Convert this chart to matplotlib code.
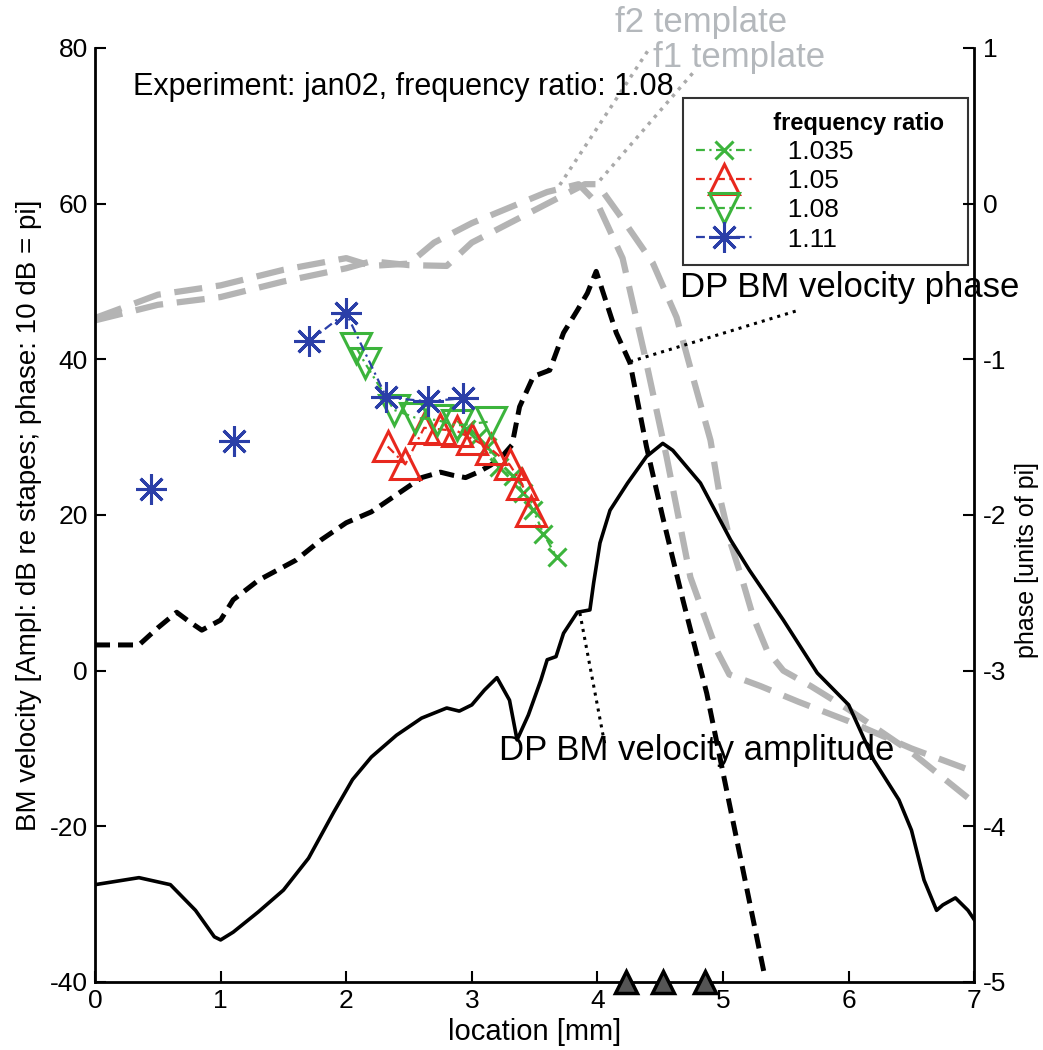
import numpy as np
import matplotlib
matplotlib.use("Agg")
import matplotlib.pyplot as plt

plt.rcParams['font.family'] = ['Liberation Sans', 'DejaVu Sans']
plt.rcParams['axes.unicode_minus'] = False

# DP BM velocity amplitude (solid black), left axis units
amp_x = [0.0, 0.35, 0.6, 0.8, 0.95, 1.0, 1.1, 1.3, 1.5, 1.7, 1.9, 2.05, 2.2, 2.4, 2.6, 2.8,
         2.9, 3.0, 3.1, 3.2, 3.3, 3.36, 3.45, 3.55, 3.6, 3.67, 3.73, 3.84, 3.94, 3.97, 4.02,
         4.1, 4.24, 4.39, 4.52, 4.6, 4.82, 5.06, 5.21, 5.48, 5.75, 6.0, 6.2, 6.4,
         6.5, 6.6, 6.7, 6.75, 6.85, 6.95, 7.0]
amp_y = [-27.5, -26.6, -27.5, -30.8, -34.2, -34.6, -33.6, -31.0, -28.2, -24.1, -18.2, -14.0,
         -11.1, -8.3, -6.1, -4.8, -5.2, -4.4, -2.5, -0.9, -3.8, -8.9, -5.7, -1.2, 1.4, 1.8,
         4.8, 7.5, 7.8, 11.3, 16.4, 20.6, 24.1, 27.5, 29.2, 28.3, 24.1, 16.8, 12.9, 6.5, -0.3,
         -4.4, -11.5, -16.6, -20.5, -26.9, -30.8, -30.1, -29.2, -30.8, -32.0]

# DP BM velocity phase (dashed black), plotted in left axis units
ph_x = [0.0, 0.35, 0.5, 0.65, 0.75, 0.85, 1.0, 1.1, 1.3, 1.6, 1.8, 2.0, 2.2, 2.4, 2.6, 2.75,
        2.85, 2.95, 3.05, 3.15, 3.25, 3.32, 3.38, 3.49, 3.62, 3.73, 3.84, 3.92, 3.99, 4.15,
        4.26, 4.39, 4.52, 4.68, 4.87, 5.33]
ph_y = [3.3, 3.3, 5.5, 7.5, 6.3, 5.2, 6.5, 9.1, 11.6, 14.2, 16.8, 19.0, 20.4, 22.6, 24.8,
        25.5, 25.1, 24.8, 25.5, 26.4, 27.7, 29.0, 33.9, 37.8, 38.6, 43.4, 46.3, 48.5, 51.3,
        43.4, 39.5, 28.8, 19.7, 9.1, -2.9, -39.1]

# template curves (grey dashed)
f1_x = [0.0, 0.5, 1.0, 1.5, 2.0, 2.2, 2.5, 2.7, 3.0, 3.3, 3.6, 3.85, 4.0, 4.2, 4.37, 4.55,
        4.74, 4.95, 5.05, 5.3, 5.6, 6.0, 6.5, 7.0]
f1_y = [45.3, 48.3, 49.5, 51.5, 53.0, 52.0, 52.3, 55.0, 57.5, 59.5, 61.5, 62.5, 60.0, 53.0,
        41.0, 27.5, 12.0, 2.6, -0.5, -2.0, -4.0, -6.5, -10.0, -13.0]
f2_x = [0.0, 0.5, 1.0, 1.5, 2.0, 2.2, 2.5, 2.8, 3.0, 3.3, 3.6, 3.9, 4.0, 4.2, 4.44, 4.63,
        4.76, 4.9, 4.98, 5.06, 5.16, 5.24, 5.35, 5.48, 5.7, 6.0, 6.5, 7.0]
f2_y = [45.0, 47.0, 48.0, 50.0, 51.7, 52.6, 52.1, 52.0, 55.0, 57.5, 60.0, 62.5, 62.5, 58.0,
        52.4, 45.4, 37.7, 29.6, 21.9, 16.4, 11.3, 6.9, 2.6, 0.0, -2.0, -5.0, -10.5, -17.0]

# measured points per frequency ratio
r1035_x = [2.95, 3.05, 3.12, 3.22, 3.33, 3.41, 3.49, 3.57, 3.675]
r1035_y = [31.0, 30.0, 28.7, 26.2, 25.0, 22.8, 20.6, 17.6, 14.6]
r105_x = [2.33, 2.47, 2.62, 2.75, 2.88, 3.0, 3.15, 3.3, 3.4, 3.47]
r105_y = [28.8, 26.5, 31.2, 31.0, 30.8, 29.8, 28.5, 26.5, 24.0, 20.5]
r108_x = [2.08, 2.15, 2.38, 2.55, 2.72, 2.88, 3.15]
r108_y = [41.5, 39.5, 33.5, 32.5, 32.2, 31.5, 32.0]
r111_x = [0.446, np.nan, 1.107, np.nan, 1.704, 1.998, 2.32, 2.65, 2.93]
r111_y = [23.3, np.nan, 29.5, np.nan, 42.3, 46.0, 35.1, 34.6, 35.0]

ratio_labels = ['1.035', '1.05', '1.08', '1.11']

# black triangles on the x axis
tri_x = [4.23, 4.52, 4.86]
tri_y = [-40, -40, -40]

green = '#3cb43c'
red = '#e8281e'
blue = '#2b3fa8'
grey = '#b4b4b4'
dashdot = (0, (4, 2, 1, 2))

fig = plt.figure(figsize=(10.43, 10.5), dpi=100)
ax = fig.add_axes([0.0911, 0.0648, 0.843, 0.8895])

ax.plot(f1_x, f1_y, color=grey, lw=4.5, dashes=(4.5, 2.2))
ax.plot(f2_x, f2_y, color=grey, lw=4.5, dashes=(4.5, 2.2))
ax.plot(amp_x, amp_y, color='black', lw=2.6)
ax.plot(ph_x, ph_y, color='black', lw=3.6, dashes=(3, 1.6))

h1, = ax.plot(r1035_x, r1035_y, color=green, ls=dashdot, lw=1.6, marker='x', ms=13, mew=2.2)
h2, = ax.plot(r105_x, r105_y, color=red, ls=dashdot, lw=1.6, marker='^', ms=21, mfc='none', mew=2.2)
h3, = ax.plot(r108_x, r108_y, color=green, ls=dashdot, lw=1.6, marker='v', ms=21, mfc='none', mew=2.2)
h4, = ax.plot(r111_x, r111_y, color=blue, ls=dashdot, lw=1.6, marker=(8, 2, 0), ms=22, mew=2.2)

ax.plot(tri_x, tri_y, ls='none', marker='^', ms=16, mfc='#555555', mec='black', mew=2.5,
        clip_on=False, zorder=5)

# annotation leader lines
ax.plot([4.26, 5.6], [39.7, 46.3], color='black', ls=':', lw=2.2)
ax.plot([3.86, 4.06], [7.4, -9.6], color='black', ls=':', lw=2.2)
ax.plot([3.70, 4.42], [62.4, 80.1], color='#aaaaaa', ls=':', lw=2.5, clip_on=False)
ax.plot([4.02, 4.76], [63.0, 76.8], color='#aaaaaa', ls=':', lw=2.5, clip_on=False)

ax.text(0.30, 75.0, 'Experiment: jan02, frequency ratio: 1.08', fontsize=22, va='center')
ax.text(4.66, 49.2, 'DP BM velocity phase', fontsize=25, va='center')
ax.text(3.22, -10.2, 'DP BM velocity amplitude', fontsize=25, va='center')
tcol = '#b4b8bc'
ax.text(4.14, 83.3, 'f2 template', fontsize=25, va='center', color=tcol, clip_on=False)
ax.text(4.44, 78.8, 'f1 template', fontsize=25, va='center', color=tcol, clip_on=False)

ax.set_xlim(0, 7)
ax.set_ylim(-40, 80)
ax.set_xticks(range(0, 8))
ax.set_yticks(range(-40, 81, 20))
ax.tick_params(direction='in', length=8, width=1.5, labelsize=19, pad=5)
ax.spines['top'].set_visible(False)
ax.spines['right'].set_visible(False)
for s in ['left', 'bottom']:
    ax.spines[s].set_linewidth(2)
ax.set_xlabel('location [mm]', fontsize=21, labelpad=4)
ax.set_ylabel('BM velocity [Ampl: dB re stapes; phase: 10 dB = pi]', fontsize=20, labelpad=6)

ax2 = ax.twinx()
ax2.set_ylim(-5, 1)
ax2.set_yticks(range(-5, 2))
ax2.tick_params(direction='in', length=8, width=1.5, labelsize=19, pad=6)
for s in ['top', 'left', 'bottom']:
    ax2.spines[s].set_visible(False)
ax2.spines['right'].set_linewidth(2)
ax2.set_ylabel('phase [units of pi]', fontsize=18, rotation=90)
ax2.yaxis.label.set_verticalalignment('center')
ax2.yaxis.label.set_horizontalalignment('center')
ax2.yaxis.set_label_coords(1.0605, 0.452)

leg = ax.legend([h1, h2, h3, h4], ['  ' + s for s in ratio_labels],
                title='          frequency ratio', loc='upper left',
                bbox_to_anchor=(0.669, 0.946, 0.324, 0.0), mode='expand',
                fontsize=19, frameon=True, fancybox=False, edgecolor='black',
                handlelength=2.1, handletextpad=0.8, borderpad=0.5, labelspacing=0.2,
                borderaxespad=0)
leg.get_title().set_fontweight('bold')
leg.get_title().set_fontsize(17)
leg.get_frame().set_linewidth(1.5)
leg.set_zorder(10)

fig.savefig('out.png', dpi=100)
